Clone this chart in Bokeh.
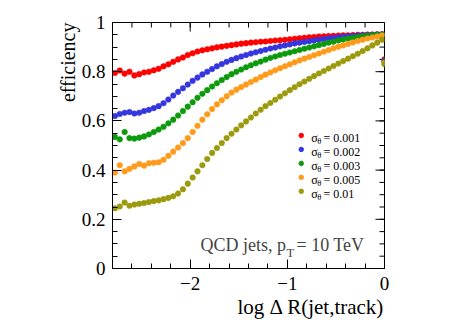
import numpy as np
from bokeh.plotting import figure
from bokeh.models import (ColumnDataSource, LinearAxis, FixedTicker, CustomJSTickFormatter,
                          Label, Range1d, Title)
from bokeh.core.properties import value
from bokeh.embed import file_html
from bokeh.resources import INLINE

# ---------------- data ----------------
x_bins = [round(-2.775 + 0.05 * i, 3) for i in range(56)]

eff_0001 = [0.795, 0.805, 0.792, 0.800, 0.785, 0.790, 0.797, 0.800, 0.806, 0.812,
            0.822, 0.830, 0.840, 0.850, 0.858, 0.868, 0.875, 0.882, 0.887, 0.891,
            0.895, 0.899, 0.902, 0.905, 0.908, 0.911, 0.914, 0.916, 0.918, 0.920,
            0.922, 0.923, 0.925, 0.927, 0.928, 0.930, 0.932, 0.934, 0.936, 0.938,
            0.940, 0.941, 0.943, 0.944, 0.945, 0.946, 0.947, 0.948, 0.948, 0.949,
            0.950, 0.950, 0.951, 0.951, 0.952, 0.952]
eff_0002 = [0.620, 0.628, 0.633, 0.636, 0.630, 0.633, 0.640, 0.645, 0.652, 0.660,
            0.672, 0.687, 0.703, 0.718, 0.733, 0.748, 0.763, 0.776, 0.789, 0.800,
            0.811, 0.822, 0.831, 0.840, 0.848, 0.855, 0.862, 0.868, 0.874, 0.879,
            0.884, 0.889, 0.894, 0.898, 0.903, 0.907, 0.911, 0.915, 0.918, 0.921,
            0.924, 0.927, 0.930, 0.933, 0.936, 0.938, 0.940, 0.942, 0.944, 0.945,
            0.947, 0.948, 0.949, 0.950, 0.951, 0.952]
eff_0003 = [0.535, 0.525, 0.555, 0.530, 0.528, 0.532, 0.537, 0.545, 0.555, 0.565,
            0.576, 0.590, 0.605, 0.622, 0.640, 0.658, 0.676, 0.694, 0.710, 0.725,
            0.740, 0.753, 0.766, 0.778, 0.790, 0.800, 0.809, 0.818, 0.826, 0.834,
            0.841, 0.849, 0.856, 0.862, 0.868, 0.873, 0.878, 0.883, 0.888, 0.893,
            0.898, 0.903, 0.908, 0.913, 0.918, 0.922, 0.927, 0.931, 0.935, 0.938,
            0.941, 0.944, 0.946, 0.948, 0.950, 0.951]
eff_0005 = [0.390, 0.420, 0.395, 0.405, 0.415, 0.425, 0.418, 0.428, 0.430, 0.432,
            0.442, 0.458, 0.475, 0.492, 0.510, 0.530, 0.555, 0.580, 0.605, 0.627,
            0.648, 0.667, 0.684, 0.700, 0.715, 0.727, 0.738, 0.748, 0.758, 0.768,
            0.778, 0.788, 0.797, 0.806, 0.814, 0.822, 0.830, 0.838, 0.846, 0.853,
            0.860, 0.867, 0.874, 0.881, 0.888, 0.895, 0.901, 0.907, 0.913, 0.919,
            0.925, 0.930, 0.935, 0.939, 0.943, 0.947]
eff_001 = [0.245, 0.252, 0.268, 0.255, 0.260, 0.263, 0.266, 0.270, 0.274, 0.277,
           0.282, 0.287, 0.294, 0.305, 0.322, 0.345, 0.370, 0.395, 0.420, 0.445,
           0.470, 0.490, 0.510, 0.530, 0.548, 0.565, 0.582, 0.598, 0.614, 0.630,
           0.645, 0.660, 0.673, 0.686, 0.699, 0.712, 0.725, 0.737, 0.749, 0.760,
           0.771, 0.782, 0.793, 0.803, 0.813, 0.823, 0.833, 0.843, 0.853, 0.863,
           0.873, 0.884, 0.895, 0.907, 0.918, 0.930]

# last (overflow-like) bin at log dR = 0
x_last = 0.0
eff_last = [0.850, 0.845, 0.840, 0.835, 0.830]

sigma_labels = ["0.001", "0.002", "0.003", "0.005", "0.01"]
series = [eff_0001, eff_0002, eff_0003, eff_0005, eff_001]
colors = ["#ff0000", "#3636e0", "#0c9a0c", "#ff9a1a", "#9a9a0c"]

x_ticks = [-2, -1, 0]
y_ticks = [0, 0.2, 0.4, 0.6, 0.8, 1]

# ---------------- figure ----------------
FONT = "Liberation Serif"
X0, X1, Y0, Y1 = -2.8, 0.0, 0.0, 1.0
FW, FH = 272, 246
p = figure(frame_width=FW, frame_height=FH, output_backend="svg", toolbar_location=None,
           x_range=Range1d(X0, X1), y_range=Range1d(Y0, Y1),
           min_border_left=112, min_border_right=70, min_border_top=22, min_border_bottom=55,
           x_axis_location=None, y_axis_location=None)
p.outline_line_color = "black"
p.outline_line_width = 1
p.xgrid.visible = False
p.ygrid.visible = False
p.background_fill_color = "white"
p.border_fill_color = "white"

x_minor = [round(-2.8 + 0.2 * i, 2) for i in range(15)]
y_minor = [round(0.05 * i, 2) for i in range(21)]

x_fmt = CustomJSTickFormatter(code="return tick < 0 ? '\\u2212' + Math.abs(tick).toFixed(0) : tick.toFixed(0);")
y_fmt = CustomJSTickFormatter(code="return Math.abs(tick - Math.round(tick)) < 1e-9 ? Math.round(tick).toString() : tick.toFixed(1);")

MAJ, MIN = 9, 5


def style_axis(ax, ticks, minor, fmt):
    ax.ticker = FixedTicker(ticks=ticks, minor_ticks=minor)
    ax.formatter = fmt
    ax.axis_line_color = "black"
    ax.axis_line_width = 1
    ax.major_tick_line_color = "black"
    ax.minor_tick_line_color = "black"
    ax.major_tick_in = MAJ
    ax.major_tick_out = 0
    ax.minor_tick_in = MIN
    ax.minor_tick_out = 0
    ax.major_label_text_font = FONT
    ax.major_label_text_color = "black"
    ax.major_label_text_font_size = "19px"
    ax.major_label_standoff = 7


bottom = LinearAxis()
style_axis(bottom, x_ticks, x_minor, x_fmt)
bottom.major_label_standoff = 8
p.add_layout(bottom, "below")
left = LinearAxis()
style_axis(left, y_ticks, y_minor, y_fmt)
p.add_layout(left, "left")

# axis titles, right-aligned at the end of the axes (ROOT style)
p.add_layout(Title(text="efficiency", align="right", text_font=FONT, text_font_size="20px",
                   text_font_style="normal", text_color="black", standoff=0, offset=0), "left")
p.add_layout(Title(text="log \u0394 R(jet,track)", align="right", text_font=FONT,
                   text_font_size="21px", text_font_style="normal", text_color="black",
                   standoff=0, offset=0), "below")

# mirrored ticks on the top and right frame edges (ROOT style)
dy_maj, dy_min = MAJ * (Y1 - Y0) / FH, MIN * (Y1 - Y0) / FH
dx_maj, dx_min = MAJ * (X1 - X0) / FW, MIN * (X1 - X0) / FW
top_x = x_ticks + x_minor
top_len = [dy_maj] * len(x_ticks) + [dy_min] * len(x_minor)
p.segment(x0=top_x, y0=[Y1] * len(top_x), x1=top_x, y1=[Y1 - d for d in top_len],
          line_color="black", line_width=1)
right_y = y_ticks + y_minor
right_len = [dx_maj] * len(y_ticks) + [dx_min] * len(y_minor)
p.segment(x0=[X1] * len(right_y), y0=right_y, x1=[X1 - d for d in right_len], y1=right_y,
          line_color="black", line_width=1)

# ---------------- data points ----------------
for eff, col, last in zip(series, colors, eff_last):
    src = ColumnDataSource(dict(x=x_bins + [x_last], y=eff + [last]))
    p.scatter("x", "y", source=src, size=5.6, marker="circle",
              fill_color=col, line_color=col, line_width=0.5)

# ---------------- annotation text ----------------
p.add_layout(Label(x=-1.894, y=0.0935, text="QCD jets, p", text_align="left",
                   text_baseline="alphabetic", text_font=FONT, text_font_size="18px"))
p.add_layout(Label(x=-1.009, y=0.061, text="T", text_align="left",
                   text_baseline="alphabetic", text_font=FONT, text_font_size="12.5px"))
p.add_layout(Label(x=-0.906, y=0.0935, text="= 10 TeV", text_align="left",
                   text_baseline="alphabetic", text_font=FONT, text_font_size="18px"))

# ---------------- legend ----------------
leg_top = 0.5407
leg_step = 0.0567
n = len(sigma_labels)
rows_y = [leg_top - i * leg_step for i in range(n)]
leg_src = ColumnDataSource(dict(
    mx=[-0.857] * n, my=rows_y, color=colors,
    sx=[-0.7546] * n, sy=[y - 0.011 for y in rows_y], s=["\u03c3"] * n,
    tx=[-0.693] * n, ty=[y - 0.023 for y in rows_y], t=["\u03b8"] * n,
    vx=[-0.628] * n, v=["= " + s for s in sigma_labels]))
p.scatter("mx", "my", source=leg_src, size=4.5, marker="circle",
          fill_color="color", line_color="color")
p.text("sx", "sy", text="s", source=leg_src, text_font=value(FONT), text_font_size="12px",
       text_align="left", text_baseline="alphabetic", text_color="black")
p.text("tx", "ty", text="t", source=leg_src, text_font=value(FONT), text_font_size="8.5px",
       text_align="left", text_baseline="alphabetic", text_color="black")
p.text("vx", "sy", text="v", source=leg_src, text_font=value(FONT), text_font_size="12px",
       text_align="left", text_baseline="alphabetic", text_color="black")

open("out.html", "w").write(file_html(p, INLINE))
